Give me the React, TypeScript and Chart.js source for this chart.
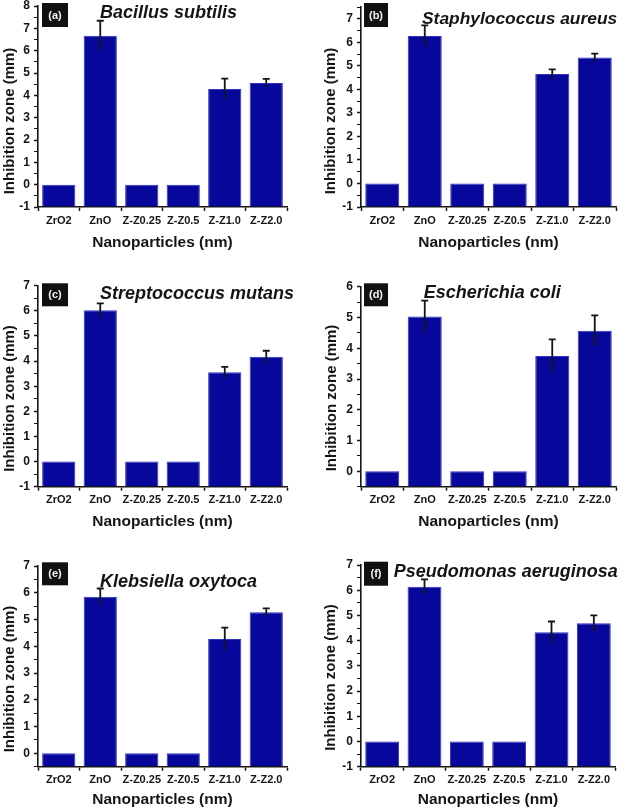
import React, { useEffect, useRef } from 'react';
import { Chart, registerables } from 'chart.js';

Chart.register(...registerables);

// ---------------- DATA ----------------
const categories = ['ZrO2', 'ZnO', 'Z-Z0.25', 'Z-Z0.5', 'Z-Z1.0', 'Z-Z2.0'];
const panelLetters = ['(a)', '(b)', '(c)', '(d)', '(e)', '(f)'];
const speciesNames = [
  'Bacillus subtilis',
  'Staphylococcus aureus',
  'Streptococcus mutans',
  'Escherichia coli',
  'Klebsiella oxytoca',
  'Pseudomonas aeruginosa',
];

const valuesA = [0, 6.67, 0, 0, 4.28, 4.55];
const errorsA = [0, 0.67, 0, 0, 0.47, 0.19];
const valuesB = [0, 6.27, 0, 0, 4.65, 5.35];
const errorsB = [0, 0.45, 0, 0, 0.2, 0.17];
const valuesC = [0, 6.02, 0, 0, 3.56, 4.17];
const errorsC = [0, 0.28, 0, 0, 0.21, 0.24];
const valuesD = [0, 5.03, 0, 0, 3.75, 4.57];
const errorsD = [0, 0.52, 0, 0, 0.54, 0.5];
const valuesE = [0, 5.85, 0, 0, 4.27, 5.27];
const errorsE = [0, 0.31, 0, 0, 0.43, 0.15];
const valuesF = [0, 6.14, 0, 0, 4.33, 4.69];
const errorsF = [0, 0.29, 0, 0, 0.43, 0.31];

const seriesValues = [valuesA, valuesB, valuesC, valuesD, valuesE, valuesF];
const seriesErrors = [errorsA, errorsB, errorsC, errorsD, errorsE, errorsF];

const yMins = [-1, -1, -1, -0.5, -0.5, -1];
const yMaxs = [8, 7.5, 7, 6, 7, 7];

const yAxisTitle = 'Inhibition zone (mm)';
const xAxisTitle = 'Nanoparticles (nm)';

// ---------------- LAYOUT / STYLE ----------------
const FONT = '"Liberation Sans", Arial, sans-serif';
const BAR_FILL = '#07079c';
const BAR_BORDER = '#2f2fc4';
const INK = '#151515';

type Layout = {
  x: number; y: number; w: number; h: number;
  l: number; r: number; t: number; b: number;
  spX: number; spBase: number; spSize: number;
  boxX: number; boxY: number; boxW: number; boxH: number;
  yTitleX: number; yTitleY: number; xTitleY: number;
};

const layouts: Layout[] = [
  { x: 0, y: 0, w: 312, h: 270, l: 38, r: 287, t: 6, b: 207, spX: 100, spBase: 17.5, spSize: 18, boxX: 42, boxY: 3, boxW: 26, boxH: 24, yTitleX: 10, yTitleY: 121, xTitleY: 243 },
  { x: 312, y: 0, w: 313, h: 270, l: 49, r: 304, t: 7, b: 207, spX: 110, spBase: 24, spSize: 17.4, boxX: 52, boxY: 3, boxW: 24, boxH: 24, yTitleX: 18.5, yTitleY: 121, xTitleY: 243 },
  { x: 0, y: 270, w: 312, h: 270, l: 38, r: 287, t: 15.7, b: 216.7, spX: 100, spBase: 28.5, spSize: 18, boxX: 42, boxY: 13.3, boxW: 26, boxH: 23, yTitleX: 10, yTitleY: 128.5, xTitleY: 251.7 },
  { x: 312, y: 270, w: 313, h: 270, l: 49, r: 304, t: 16.7, b: 216.7, spX: 111.7, spBase: 28.3, spSize: 18, boxX: 52, boxY: 13.3, boxW: 24, boxH: 23, yTitleX: 19.5, yTitleY: 128, xTitleY: 251.7 },
  { x: 0, y: 540, w: 312, h: 270, l: 38, r: 287, t: 26, b: 226.7, spX: 100, spBase: 46.7, spSize: 18, boxX: 42, boxY: 22.3, boxW: 26, boxH: 23, yTitleX: 10, yTitleY: 139, xTitleY: 260 },
  { x: 312, y: 540, w: 313, h: 270, l: 49, r: 303, t: 25, b: 226.7, spX: 81.7, spBase: 36.7, spSize: 18, boxX: 52, boxY: 21.7, boxW: 24, boxH: 24, yTitleX: 18.5, yTitleY: 137.5, xTitleY: 260 },
];

function Panel({ idx }: { idx: number }) {
  const ref = useRef<HTMLCanvasElement>(null);
  const L = layouts[idx];

  useEffect(() => {
    if (!ref.current) return;
    const vals = seriesValues[idx];
    const errs = seriesErrors[idx];
    const yMin = yMins[idx];
    const yMax = yMaxs[idx];

    const decor = {
      id: 'decor' + idx,
      afterDatasetsDraw(chart: any) {
        const ctx = chart.ctx;
        const meta = chart.getDatasetMeta(0);
        const ys = chart.scales.y;
        ctx.save();
        ctx.strokeStyle = INK;
        ctx.lineWidth = 1.8;
        vals.forEach((v, i) => {
          const e = errs[i];
          if (!e) return;
          const x = meta.data[i].x;
          const yt = ys.getPixelForValue(v + e);
          const yb = ys.getPixelForValue(v - e);
          ctx.beginPath();
          ctx.moveTo(x, yb);
          ctx.lineTo(x, yt);
          ctx.moveTo(x - 3.5, yt);
          ctx.lineTo(x + 3.5, yt);
          ctx.stroke();
        });
        ctx.restore();
      },
      afterDraw(chart: any) {
        const ctx = chart.ctx;
        const area = chart.chartArea;
        ctx.save();
        // panel letter box
        ctx.fillStyle = '#111';
        ctx.fillRect(L.boxX, L.boxY, L.boxW, L.boxH);
        ctx.fillStyle = '#f2f2f2';
        ctx.font = `bold 11px ${FONT}`;
        ctx.textAlign = 'center';
        ctx.textBaseline = 'middle';
        ctx.fillText(panelLetters[idx], L.boxX + L.boxW / 2, L.boxY + L.boxH / 2 + 0.5);
        // species title
        ctx.fillStyle = INK;
        ctx.font = `italic bold ${L.spSize}px ${FONT}`;
        ctx.textAlign = 'left';
        ctx.textBaseline = 'alphabetic';
        ctx.fillText(speciesNames[idx], L.spX, L.spBase);
        // x axis title
        ctx.font = `bold 15.5px ${FONT}`;
        ctx.textAlign = 'center';
        ctx.textBaseline = 'middle';
        ctx.fillText(xAxisTitle, (area.left + area.right) / 2, L.xTitleY);
        // y axis title
        ctx.translate(L.yTitleX, L.yTitleY);
        ctx.rotate(-Math.PI / 2);
        ctx.font = `bold 15px ${FONT}`;
        ctx.fillText(yAxisTitle, 0, 0);
        ctx.restore();
      },
    };

    const chart = new Chart(ref.current, {
      type: 'bar',
      data: {
        labels: categories,
        datasets: [
          {
            data: vals,
            base: yMin,
            backgroundColor: BAR_FILL,
            borderColor: BAR_BORDER,
            borderWidth: 1,
            barPercentage: 0.8,
            categoryPercentage: 1,
          } as any,
        ],
      },
      options: {
        responsive: false,
        maintainAspectRatio: false,
        animation: false,
        devicePixelRatio: 1,
        layout: { padding: { left: 0, top: L.t, right: L.w - L.r, bottom: 0 } },
        plugins: { legend: { display: false }, tooltip: { enabled: false }, title: { display: false } },
        scales: {
          x: {
            grid: { drawOnChartArea: false, drawTicks: true, tickLength: 4, tickColor: INK, tickWidth: 1.5, offset: true },
            border: { display: true, color: INK, width: 1.6 },
            ticks: {
              color: INK,
              font: { family: FONT, size: 11, weight: 'bold' },
              padding: 3,
              maxRotation: 0,
              minRotation: 0,
              autoSkip: false,
            },
            afterFit(scale: any) {
              scale.height = L.h - L.b;
              scale.paddingLeft = 0;
              scale.paddingRight = 0;
            },
          },
          y: {
            min: yMin,
            max: yMax,
            grid: {
              drawOnChartArea: false,
              drawTicks: true,
              tickLength: 4,
              tickColor: INK,
              tickWidth: (c: any) => (Number.isInteger(c.tick?.value) ? 1.5 : 1),
            },
            border: { display: true, color: INK, width: 1.6 },
            ticks: {
              stepSize: 0.5,
              autoSkip: false,
              color: INK,
              font: { family: FONT, size: 12, weight: 'bold' },
              padding: 4,
              callback: (v: any) => (Number.isInteger(v) ? String(v) : ''),
            },
            afterFit(scale: any) {
              scale.width = L.l;
              scale.paddingTop = 0;
              scale.paddingBottom = 0;
            },
          },
        },
      },
      plugins: [decor],
    });
    return () => chart.destroy();
  }, [idx]);

  return (
    <canvas
      ref={ref}
      width={L.w}
      height={L.h}
      style={{ position: 'absolute', left: L.x, top: L.y, width: L.w, height: L.h }}
    />
  );
}

export default function App() {
  return (
    <div style={{ position: 'absolute', left: 0, top: 0, width: 625, height: 810, background: '#fff', overflow: 'hidden' }}>
      {layouts.map((_, i) => (
        <Panel key={i} idx={i} />
      ))}
    </div>
  );
}
